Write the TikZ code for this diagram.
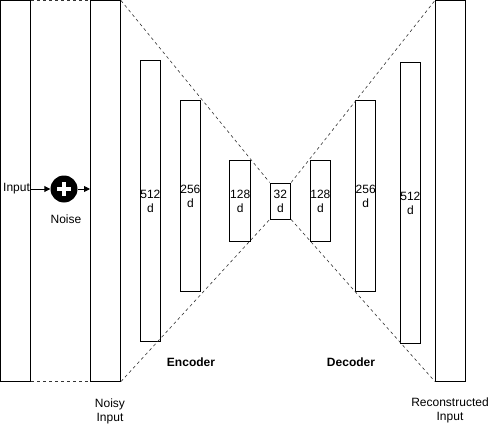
\documentclass[tikz,border=0pt]{standalone}
\usepackage{fontspec}
\setmainfont{Liberation Sans}
\usetikzlibrary{arrows.meta}
\begin{document}
\begin{tikzpicture}[x=1pt,y=-1pt,
  every node/.style={font=\fontsize{12}{14}\selectfont},
  layer/.style={draw,line width=1pt,inner sep=0pt,minimum width=20.5pt,align=center},
  bigcol/.style={draw,line width=1pt,inner sep=0pt,minimum width=30pt,minimum height=380pt},
  guide/.style={dashed,line width=0.6pt,dash pattern=on 3pt off 3pt,black!80},
  arr/.style={line width=0.9pt,-{Triangle[length=6pt,width=6pt]}},
  lbl/.style={align=center,inner sep=0pt}]
\useasboundingbox (0,0) rectangle (490,425);
\node[bigcol] (in) at (15.5,191) {};
\node[bigcol] (noisy) at (105.5,191) {};
\node[bigcol] (out) at (450.4,191) {};
\node[layer,minimum height=280pt] (e512) at (150.4,201) {512\\d};
\node[layer,minimum height=190pt] (e256) at (190.4,196) {256\\d};
\node[layer,minimum height=80pt] (e128) at (240.2,201) {128\\d};
\node[layer,minimum height=36pt] (z32) at (280.4,201) {32\\d};
\node[layer,minimum height=80pt] (d128) at (320.4,201) {128\\d};
\node[layer,minimum height=190pt] (d256) at (365.7,196) {256\\d};
\node[layer,minimum height=280pt] (d512) at (410.4,203) {512\\d};
% noise
\node[circle,fill=black,minimum size=27pt,inner sep=0pt] (plus) at (64,189) {};
\fill[white] (57,187.3) rectangle (71,190.7);
\fill[white] (62.3,182) rectangle (65.7,196);
\node[lbl,anchor=west] (inlabel) at (3,189) {Input};
\node[lbl] (noise) at (66,219) {Noise};
\draw[arr] (inlabel.east) -- (plus.west);
\draw[arr] (plus.east) -- (plus.east -| noisy.west);
% guides
\draw[guide] (in.north east) -- (noisy.north west);
\draw[guide] (in.south east) -- (noisy.south west);
\draw[guide] (noisy.north east) -- (z32.north west);
\draw[guide] (noisy.south east) -- (z32.south west);
\draw[guide] (z32.north east) -- (out.north west);
\draw[guide] (z32.south east) -- (out.south west);
% labels
\node[lbl,font=\fontsize{12}{14}\selectfont\bfseries] (enc) at (191,362) {Encoder};
\node[lbl,font=\fontsize{12}{14}\selectfont\bfseries] (dec) at (351,362) {Decoder};
\node[lbl] (noisylbl) at (110,411) {Noisy\\Input};
\node[lbl] (outlbl) at (450,410) {Reconstructed\\Input};
\end{tikzpicture}
\end{document}
